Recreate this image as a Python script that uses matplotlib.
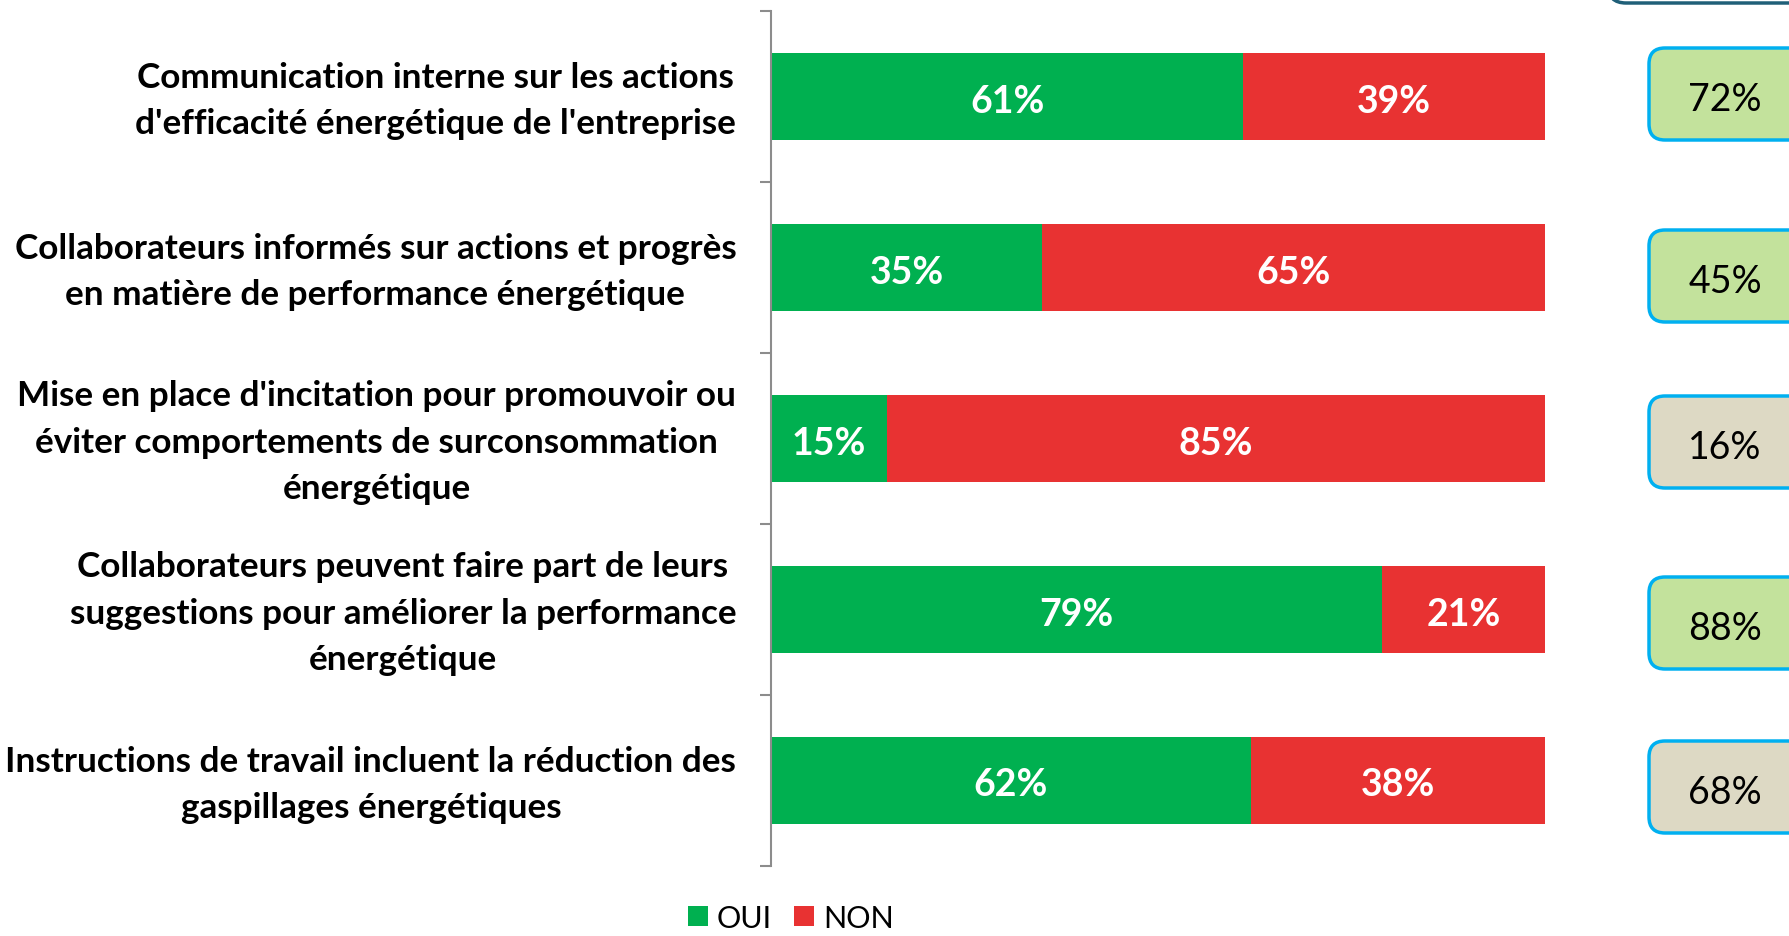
import matplotlib
matplotlib.use("Agg")
import matplotlib.pyplot as plt
from matplotlib.patches import FancyBboxPatch, Patch
from matplotlib.transforms import IdentityTransform, offset_copy
import numpy as np

categories = [
    "Communication interne sur les actions\nd'efficacité énergétique de l'entreprise",
    "Collaborateurs informés sur actions et progrès\nen matière de performance énergétique",
    "Mise en place d'incitation pour promouvoir ou\néviter comportements de surconsommation\nénergétique",
    "Collaborateurs peuvent faire part de leurs\nsuggestions pour améliorer la performance\nénergétique",
    "Instructions de travail incluent la réduction des\ngaspillages énergétiques",
]
oui = [61, 35, 15, 79, 62]
non = [39, 65, 85, 21, 38]
side_values = [72, 45, 16, 88, 68]
series_names = ["OUI", "NON"]

GREEN = "#00B050"
RED = "#E83232"
BOX_GREEN = "#C3E29C"
BOX_BEIGE = "#DDD9C4"
box_colors = [BOX_GREEN, BOX_GREEN, BOX_BEIGE, BOX_GREEN, BOX_BEIGE]

W, H = 1789, 937
fig = plt.figure(figsize=(W / 100, H / 100), dpi=100)
plt.rcParams["font.family"] = ["Lato", "DejaVu Sans"]

ax_l, ax_r, ax_t, ax_b = 771, 1545, 12, 867
ax = fig.add_axes([ax_l / W, 1 - ax_b / H, (ax_r - ax_l) / W, (ax_b - ax_t) / H])

y = np.arange(len(categories))
ax.barh(y, oui, height=0.505, color=GREEN, edgecolor="none")
ax.barh(y, non, left=oui, height=0.505, color=RED, edgecolor="none")
lbl_tr = offset_copy(ax.transData, fig=fig, x=0, y=-4, units="dots")
for yi, o, n in zip(y, oui, non):
    ax.text(o / 2, yi, f"{o}%", ha="center", va="center", color="white",
            fontsize=27, fontweight="bold", transform=lbl_tr)
    ax.text(o + n / 2, yi, f"{n}%", ha="center", va="center", color="white",
            fontsize=27, fontweight="bold", transform=lbl_tr)

ax.set_xlim(0, 100)
ax.set_ylim(len(categories) - 0.5, -0.5)
ax.set_yticks(y)
ax.set_yticklabels(categories, fontsize=25.3, fontweight="bold",
                   multialignment="center", linespacing=1.55)
ax.set_yticks(np.arange(len(categories) + 1) - 0.5, minor=True)
ax.tick_params(axis="y", which="major", length=0, pad=25)
ax.tick_params(axis="y", which="minor", length=8, width=1.5, color="#8C8C8C")
for t in ax.get_yticklabels():
    t.set_transform(t.get_transform() + offset_copy(IdentityTransform(), fig=fig, x=0, y=7, units="dots"))
ax.set_xticks([])
for s in ["top", "right", "bottom"]:
    ax.spines[s].set_visible(False)
ax.spines["left"].set_color("#8C8C8C")
ax.spines["left"].set_linewidth(1.5)

# Side boxes (display pixel coordinates)
box_centers = [95, 277, 443, 624, 788]
box_h = 92
for yc, val, col in zip(box_centers, side_values, box_colors):
    p = FancyBboxPatch((1649, H - yc - box_h / 2), 200, box_h,
                       boxstyle="round,pad=0,rounding_size=16",
                       transform=IdentityTransform(), facecolor=col,
                       edgecolor="#00B0F0", linewidth=2.5, clip_on=False)
    fig.patches.append(p)
    fig.text(1725 / W, 1 - (yc + 5) / H, f"{val}%", ha="center", va="center",
             fontsize=27, color="black")

# Partial top-right box
top_box = FancyBboxPatch((1608, H - 4), 300, 120,
                         boxstyle="round,pad=0,rounding_size=18",
                         transform=IdentityTransform(), facecolor="white",
                         edgecolor="#1F5F78", linewidth=2.5, clip_on=False)
fig.patches.append(top_box)

handles = [Patch(facecolor=GREEN, edgecolor="none"), Patch(facecolor=RED, edgecolor="none")]
fig.legend(handles, series_names, loc="center left",
           bbox_to_anchor=(688 / W, 1 - 919 / H), ncol=2, frameon=False,
           fontsize=22, handlelength=0.65, handleheight=0.65,
           handletextpad=0.28, columnspacing=0.75, borderpad=0, borderaxespad=0)

fig.savefig("out.png", dpi=100)
